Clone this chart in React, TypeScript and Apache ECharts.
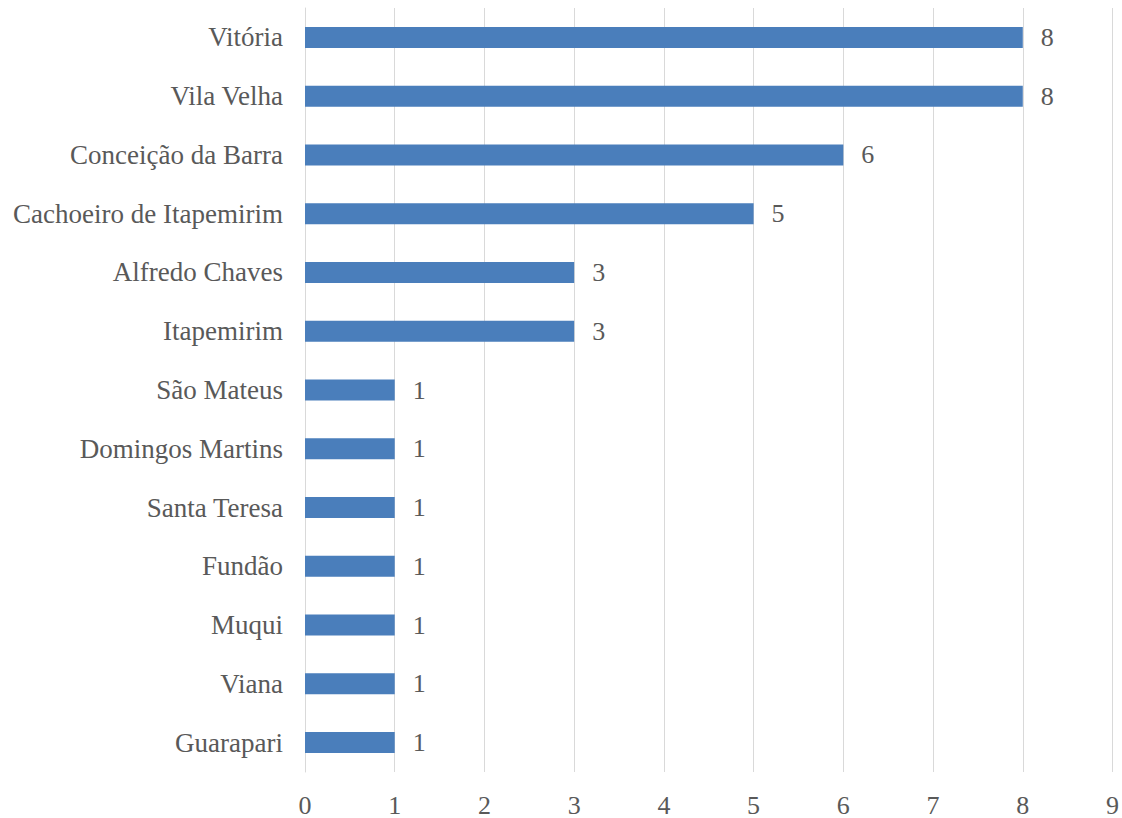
import React, { useEffect, useRef } from "react";
import * as echarts from "echarts";

const categories = [
  "Vitória",
  "Vila Velha",
  "Conceição da Barra",
  "Cachoeiro de Itapemirim",
  "Alfredo Chaves",
  "Itapemirim",
  "São Mateus",
  "Domingos Martins",
  "Santa Teresa",
  "Fundão",
  "Muqui",
  "Viana",
  "Guarapari",
];
const values = [8, 8, 6, 5, 3, 3, 1, 1, 1, 1, 1, 1, 1];
const xMin = 0;
const xMax = 9;
const xInterval = 1;

const FONT = "'Liberation Serif', 'Times New Roman', serif";
const TEXT = "#595959";

export default function App() {
  const ref = useRef<HTMLDivElement>(null);
  useEffect(() => {
    if (!ref.current) return;
    const chart = echarts.init(ref.current, null, { renderer: "svg" });
    chart.setOption({
      animation: false,
      backgroundColor: "#ffffff",
      grid: { left: 305, top: 8, width: 810, height: 767, containLabel: false },
      xAxis: {
        type: "value",
        min: xMin,
        max: xMax,
        interval: xInterval,
        axisLine: { show: false },
        axisTick: { show: false },
        splitLine: { show: true, lineStyle: { color: "#d9d9d9", width: 1 } },
        axisLabel: {
          color: TEXT,
          fontFamily: FONT,
          fontSize: 26,
          margin: 20,
        },
      },
      yAxis: {
        type: "category",
        data: categories,
        inverse: true,
        axisLine: { show: true, lineStyle: { color: "#d9d9d9", width: 1 } },
        axisTick: { show: false },
        axisLabel: {
          color: TEXT,
          fontFamily: FONT,
          fontSize: 27,
          margin: 22,
        },
      },
      series: [
        {
          type: "bar",
          data: values,
          barWidth: 21,
          itemStyle: { color: "#4a7ebb" },
          label: {
            show: true,
            position: "right",
            distance: 18,
            color: TEXT,
            fontFamily: FONT,
            fontSize: 26,
          },
        },
      ],
    });
    return () => chart.dispose();
  }, []);
  return (
    <div
      ref={ref}
      style={{ position: "absolute", left: 0, top: 0, width: 1122, height: 818 }}
    />
  );
}
